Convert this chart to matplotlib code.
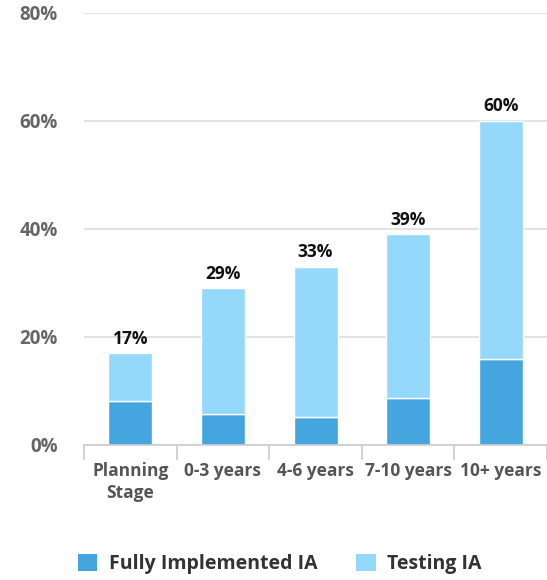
import numpy as np
import matplotlib
matplotlib.use("Agg")
import matplotlib.pyplot as plt
from matplotlib.patches import Patch

categories = ["Planning\nStage", "0-3 years", "4-6 years", "7-10 years", "10+ years"]
fully_implemented = [8.2, 5.7, 5.2, 8.7, 15.9]
totals = [17, 29, 33, 39, 60]
testing = [t - f for t, f in zip(totals, fully_implemented)]
yticks = [0, 20, 40, 60, 80]

dark = "#45a5df"
light = "#95d9fa"

plt.rcParams["font.family"] = ["Open Sans", "DejaVu Sans"]

fig = plt.figure(figsize=(5.47, 5.8), dpi=100)
ax = fig.add_axes([0.1536, 0.2328, 0.8464, 0.745])

x = np.arange(len(categories))
w = 0.475
ax.bar(x, fully_implemented, w, color=dark, edgecolor="white", linewidth=1, zorder=3)
ax.bar(x, testing, w, bottom=fully_implemented, color=light, edgecolor="white",
       linewidth=1, zorder=3)

for xi, t in zip(x, totals):
    ax.text(xi, t + 1.0, f"{t}%", ha="center", va="bottom", fontsize=12.5,
            fontweight="bold", color="#111111", zorder=4)

ax.set_xlim(-0.5, len(categories) - 0.5)
ax.set_ylim(0, 80)
ax.set_yticks(yticks)
ax.set_yticklabels([f"{v}%" for v in yticks], fontsize=13.5, fontweight="bold", color="#666666")
ax.tick_params(axis="y", length=0, pad=19)
for lab in ax.get_yticklabels():
    lab.set_horizontalalignment("right")

ax.set_xticks(x)
ax.set_xticklabels(categories, fontsize=12.5, fontweight="bold", color="#555555", linespacing=1.3)
ax.tick_params(axis="x", which="major", length=0, pad=12)
ax.set_xticks(np.arange(-0.5, len(categories) - 0.4, 1), minor=True)
ax.tick_params(axis="x", which="minor", length=11, width=1.2, color="#cccccc")

ax.grid(axis="y", color="#dddddd", linewidth=1.2, zorder=0)
for s in ["top", "right", "left"]:
    ax.spines[s].set_visible(False)
ax.spines["bottom"].set_color("#cccccc")
ax.spines["bottom"].set_linewidth(1.2)
ax.spines["bottom"].set_zorder(5)

handles = [Patch(facecolor=dark, label="Fully Implemented IA"),
           Patch(facecolor=light, label="Testing IA")]
fig.legend(handles=handles, loc="lower left", bbox_to_anchor=(0.11, -0.02), ncol=2,
           frameon=False, prop={"size": 14, "weight": "bold"}, labelcolor="#333333",
           handlelength=1.0, handleheight=1.0, columnspacing=2.0, handletextpad=0.6)

fig.savefig("out.png", dpi=100)
